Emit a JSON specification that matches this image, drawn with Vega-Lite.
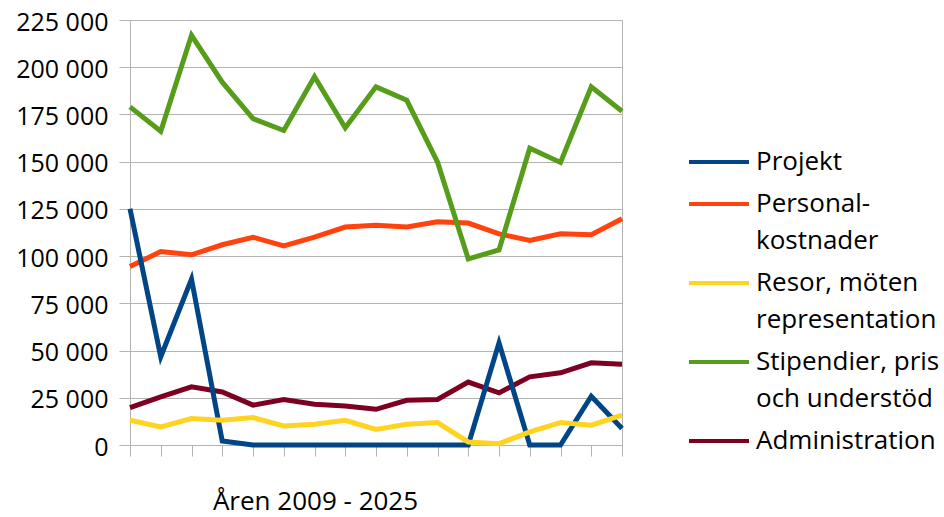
{
  "$schema": "https://vega.github.io/schema/vega-lite/v6.json",
  "width": 492,
  "height": 425,
  "autosize": {"type": "none"},
  "padding": {"left": 130, "top": 20, "right": 322, "bottom": 72},
  "background": "white",
  "config": {
    "view": {"stroke": "#b3b3b3", "strokeWidth": 1},
    "font": "Open Sans"
  },
  "data": {
    "values": [
      {"year": 2009, "serie": "Administration", "value": 19800},
      {"year": 2010, "serie": "Administration", "value": 25500},
      {"year": 2011, "serie": "Administration", "value": 30800},
      {"year": 2012, "serie": "Administration", "value": 28100},
      {"year": 2013, "serie": "Administration", "value": 21100},
      {"year": 2014, "serie": "Administration", "value": 24100},
      {"year": 2015, "serie": "Administration", "value": 21600},
      {"year": 2016, "serie": "Administration", "value": 20700},
      {"year": 2017, "serie": "Administration", "value": 18900},
      {"year": 2018, "serie": "Administration", "value": 23700},
      {"year": 2019, "serie": "Administration", "value": 24100},
      {"year": 2020, "serie": "Administration", "value": 33300},
      {"year": 2021, "serie": "Administration", "value": 27600},
      {"year": 2022, "serie": "Administration", "value": 36100},
      {"year": 2023, "serie": "Administration", "value": 38200},
      {"year": 2024, "serie": "Administration", "value": 43500},
      {"year": 2025, "serie": "Administration", "value": 42800},
      {"year": 2009, "serie": "Personalkostnader", "value": 94500},
      {"year": 2010, "serie": "Personalkostnader", "value": 102400},
      {"year": 2011, "serie": "Personalkostnader", "value": 100700},
      {"year": 2012, "serie": "Personalkostnader", "value": 106000},
      {"year": 2013, "serie": "Personalkostnader", "value": 110000},
      {"year": 2014, "serie": "Personalkostnader", "value": 105400},
      {"year": 2015, "serie": "Personalkostnader", "value": 110000},
      {"year": 2016, "serie": "Personalkostnader", "value": 115400},
      {"year": 2017, "serie": "Personalkostnader", "value": 116400},
      {"year": 2018, "serie": "Personalkostnader", "value": 115400},
      {"year": 2019, "serie": "Personalkostnader", "value": 118200},
      {"year": 2020, "serie": "Personalkostnader", "value": 117500},
      {"year": 2021, "serie": "Personalkostnader", "value": 111800},
      {"year": 2022, "serie": "Personalkostnader", "value": 108300},
      {"year": 2023, "serie": "Personalkostnader", "value": 111800},
      {"year": 2024, "serie": "Personalkostnader", "value": 111300},
      {"year": 2025, "serie": "Personalkostnader", "value": 119800},
      {"year": 2009, "serie": "Projekt", "value": 125100},
      {"year": 2010, "serie": "Projekt", "value": 46700},
      {"year": 2011, "serie": "Projekt", "value": 87800},
      {"year": 2012, "serie": "Projekt", "value": 2100},
      {"year": 2013, "serie": "Projekt", "value": 0},
      {"year": 2014, "serie": "Projekt", "value": 0},
      {"year": 2015, "serie": "Projekt", "value": 0},
      {"year": 2016, "serie": "Projekt", "value": 0},
      {"year": 2017, "serie": "Projekt", "value": 0},
      {"year": 2018, "serie": "Projekt", "value": 0},
      {"year": 2019, "serie": "Projekt", "value": 0},
      {"year": 2020, "serie": "Projekt", "value": 0},
      {"year": 2021, "serie": "Projekt", "value": 54100},
      {"year": 2022, "serie": "Projekt", "value": 0},
      {"year": 2023, "serie": "Projekt", "value": 0},
      {"year": 2024, "serie": "Projekt", "value": 25800},
      {"year": 2025, "serie": "Projekt", "value": 8700},
      {"year": 2009, "serie": "Resor, möten representation", "value": 13100},
      {"year": 2010, "serie": "Resor, möten representation", "value": 9600},
      {"year": 2011, "serie": "Resor, möten representation", "value": 14000},
      {"year": 2012, "serie": "Resor, möten representation", "value": 13100},
      {"year": 2013, "serie": "Resor, möten representation", "value": 14500},
      {"year": 2014, "serie": "Resor, möten representation", "value": 10100},
      {"year": 2015, "serie": "Resor, möten representation", "value": 11000},
      {"year": 2016, "serie": "Resor, möten representation", "value": 13100},
      {"year": 2017, "serie": "Resor, möten representation", "value": 8200},
      {"year": 2018, "serie": "Resor, möten representation", "value": 11000},
      {"year": 2019, "serie": "Resor, möten representation", "value": 11900},
      {"year": 2020, "serie": "Resor, möten representation", "value": 1600},
      {"year": 2021, "serie": "Resor, möten representation", "value": 700},
      {"year": 2022, "serie": "Resor, möten representation", "value": 6900},
      {"year": 2023, "serie": "Resor, möten representation", "value": 11900},
      {"year": 2024, "serie": "Resor, möten representation", "value": 10500},
      {"year": 2025, "serie": "Resor, möten representation", "value": 15800},
      {"year": 2009, "serie": "Stipendier, pris och understöd", "value": 179000},
      {"year": 2010, "serie": "Stipendier, pris och understöd", "value": 166100},
      {"year": 2011, "serie": "Stipendier, pris och understöd", "value": 216900},
      {"year": 2012, "serie": "Stipendier, pris och understöd", "value": 192100},
      {"year": 2013, "serie": "Stipendier, pris och understöd", "value": 172800},
      {"year": 2014, "serie": "Stipendier, pris och understöd", "value": 166500},
      {"year": 2015, "serie": "Stipendier, pris och understöd", "value": 195000},
      {"year": 2016, "serie": "Stipendier, pris och understöd", "value": 167900},
      {"year": 2017, "serie": "Stipendier, pris och understöd", "value": 189600},
      {"year": 2018, "serie": "Stipendier, pris och understöd", "value": 182500},
      {"year": 2019, "serie": "Stipendier, pris och understöd", "value": 149800},
      {"year": 2020, "serie": "Stipendier, pris och understöd", "value": 98500},
      {"year": 2021, "serie": "Stipendier, pris och understöd", "value": 103300},
      {"year": 2022, "serie": "Stipendier, pris och understöd", "value": 157100},
      {"year": 2023, "serie": "Stipendier, pris och understöd", "value": 149600},
      {"year": 2024, "serie": "Stipendier, pris och understöd", "value": 189600},
      {"year": 2025, "serie": "Stipendier, pris och understöd", "value": 176700}
    ]
  },
  "mark": {"type": "line", "strokeWidth": 5, "strokeJoin": "miter"},
  "encoding": {
    "x": {
      "field": "year",
      "type": "ordinal",
      "scale": {"type": "point", "padding": 0},
      "axis": {
        "labels": false,
        "ticks": true,
        "tickSize": 11,
        "tickColor": "#b3b3b3",
        "domain": true,
        "domainColor": "#b3b3b3",
        "grid": false,
        "title": "Åren 2009 - 2025",
        "titleFont": "Open Sans",
        "titleFontSize": 26,
        "titleFontWeight": "normal",
        "titleColor": "#000000",
        "titleX": 185,
        "titleY": 64,
        "titleAlign": "center",
        "titleBaseline": "alphabetic"
      }
    },
    "y": {
      "field": "value",
      "type": "quantitative",
      "scale": {"domain": [0, 225000], "nice": false, "zero": true},
      "axis": {
        "values": [0, 25000, 50000, 75000, 100000, 125000, 150000, 175000, 200000, 225000],
        "labelExpr": "replace(format(datum.value, ','), ',', ' ')",
        "labelFont": "Open Sans",
        "labelFontSize": 25,
        "labelColor": "#000000",
        "labelPadding": 11,
        "labelOffset": 2,
        "tickSize": 11,
        "tickColor": "#b3b3b3",
        "domainColor": "#b3b3b3",
        "gridColor": "#b3b3b3",
        "title": null
      }
    },
    "color": {
      "field": "serie",
      "type": "nominal",
      "scale": {
        "domain": ["Projekt", "Personalkostnader", "Resor, möten representation", "Stipendier, pris och understöd", "Administration"],
        "range": ["#004586", "#ff420e", "#ffd320", "#579d1c", "#7e0021"]
      },
      "legend": {
        "title": null,
        "orient": "none",
        "legendX": 557,
        "legendY": 129,
        "symbolType": "stroke",
        "symbolSize": 3600,
        "symbolStrokeWidth": 4,
        "labelFont": "Open Sans",
        "labelFontSize": 26,
        "labelColor": "#000000",
        "labelLimit": 400,
        "labelOffset": 5,
        "labelBaseline": "alphabetic",
        "rowPadding": 16,
        "labelExpr": "datum.label == 'Personalkostnader' ? ['Personal-', 'kostnader'] : datum.label == 'Resor, möten representation' ? ['Resor, möten', 'representation'] : datum.label == 'Stipendier, pris och understöd' ? ['Stipendier, pris', 'och understöd'] : datum.label",
        "encode": {
          "symbols": {"update": {"y": {"value": 13}}},
          "labels": {"update": {"lineHeight": {"value": 37}, "y": {"value": 21}}}
        }
      }
    }
  }
}
